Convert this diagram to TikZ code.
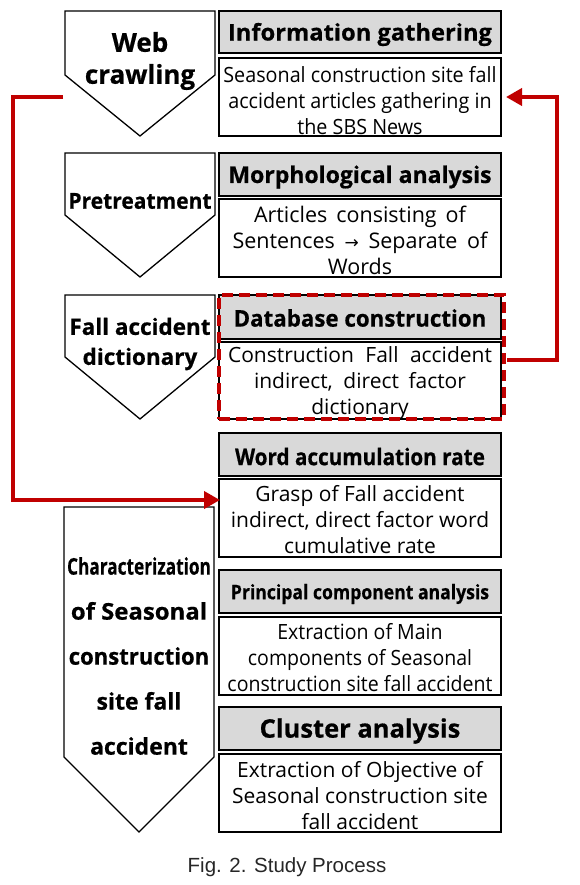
\documentclass[tikz,border=0pt]{standalone}
\usepackage{fontspec}
\setmainfont{Open Sans}
\newfontfamily\capfont{Liberation Sans}
\newfontfamily\arrfont{DejaVu Sans}
\usetikzlibrary{arrows.meta}
\definecolor{myred}{RGB}{192,0,0}
\definecolor{hdrgray}{RGB}{217,217,217}
\newcommand{\hb}{\bfseries\addfontfeature{FakeBold=0.6}}
\begin{document}
\begin{tikzpicture}[x=1pt,y=-1pt,
  hdr/.style={draw=black, line width=1.5pt, fill=hdrgray, minimum width=282pt, inner sep=0pt},
  hdrtext/.style={inner sep=0pt, font=\hb\fontsize{23}{26}\selectfont},
  bodybox/.style={draw=black, line width=1.5pt, minimum width=282pt, inner sep=0pt},
  bodytext/.style={inner sep=0pt, align=center, font=\fontsize{21}{26}\selectfont},
  pent/.style={draw=black, line width=1.3pt, fill=white},
  ptext/.style={align=center, inner sep=0pt, font=\hb\fontsize{23}{31}\selectfont},
  redline/.style={draw=myred, line width=3.8pt},
  redarrow/.style={redline, -{Triangle[length=16pt,width=17pt]}}
]
\useasboundingbox (0,0) rectangle (580,885);
% left pentagons
\draw[pent] (65,11) -- (215,11) -- (215,75) -- (140,136) -- (65,75) -- cycle;
\node[ptext, font=\hb\fontsize{26}{32}\selectfont] (p1) at (140,61) {Web\\crawling};
\draw[pent] (65,153) -- (215,153) -- (215,215) -- (140,277) -- (65,215) -- cycle;
\node[ptext, font=\hb\fontsize{22}{26}\selectfont] (p2) at (140,201) {\scalebox{0.955}[1]{Pretreatment}};
\draw[pent] (65,295) -- (215,295) -- (215,357) -- (140,419) -- (65,357) -- cycle;
\node[ptext, font=\hb\fontsize{22.5}{30}\selectfont] (p3) at (140,344) {Fall accident\\dictionary};
\draw[pent] (64,507) -- (214,507) -- (214,757) -- (139,832) -- (64,757) -- cycle;
\node[ptext, font=\hb\fontsize{23}{45}\selectfont] (p4) at (139,656) {\scalebox{0.75}[1]{Characterization}\\\scalebox{1.04}[1]{of Seasonal}\\\scalebox{0.96}[1]{construction}\\site fall\\accident};
% right column: boxes
\node[hdr, minimum height=42pt] (h1) at (360,32) {};
\node[bodybox, minimum height=78pt] (b1) at (360,97) {};
\node[hdr, minimum height=43pt] (h2) at (360,174.5) {};
\node[bodybox, minimum height=78pt] (b2) at (360,238) {};
\node[hdr, minimum height=44pt] (h3) at (360,317) {};
\node[bodybox, minimum height=77pt] (b3) at (360,380.5) {};
\node[hdr, minimum height=43pt] (h4) at (360,454.5) {};
\node[bodybox, minimum height=78pt] (b4) at (360,518) {};
\node[hdr, minimum height=43pt] (h5) at (360,591.5) {};
\node[bodybox, minimum height=78pt] (b5) at (360,656) {};
\node[hdr, minimum height=43pt] (h6) at (360,728.5) {};
\node[bodybox, minimum height=78pt] (b6) at (360,793) {};
% right column: texts
\node[hdrtext] (h1t) at ([yshift=-2.5pt]h1.center) {\scalebox{1.03}[1]{Information gathering}};
\node[hdrtext] (h2t) at ([yshift=-2.5pt]h2.center) {Morphological analysis};
\node[hdrtext] (h3t) at ([yshift=-1pt]h3.center) {\scalebox{0.97}[1]{Database construction}};
\node[hdrtext] (h4t) at ([yshift=-2pt]h4.center) {\scalebox{0.9}[1]{Word accumulation rate}};
\node[hdrtext, font=\hb\fontsize{20}{24}\selectfont] (h5t) at ([yshift=-2.5pt]h5.center) {\scalebox{0.88}[1]{Principal component analysis}};
\node[hdrtext, font=\hb\fontsize{25.5}{30}\selectfont] (h6t) at ([yshift=-2.5pt]h6.center) {Cluster analysis};
\node[bodytext] (b1t) at ([yshift=-3.5pt]b1.center) {\scalebox{0.94}[1]{Seasonal construction site fall}\\\scalebox{0.94}[1]{accident articles gathering in}\\\scalebox{0.94}[1]{the SBS News}};
\node[bodytext, font=\fontsize{21.5}{26}\selectfont] (b2t) at ([yshift=-2pt]b2.center) {\makebox[212pt][s]{Articles consisting of}\\\makebox[255pt][s]{Sentences {\arrfont\fontsize{17}{20}\selectfont →} Separate of}\\Words};
\node[bodytext] (b3t) at ([yshift=-2.5pt]b3.center) {\makebox[264pt][s]{Construction Fall accident}\\\makebox[212pt][s]{indirect, direct factor}\\dictionary};
\node[bodytext] (b4t) at ([yshift=-2pt]b4.center) {Grasp of Fall accident\\indirect, direct factor word\\cumulative rate};
\node[bodytext] (b5t) at ([yshift=-1.5pt]b5.center) {\scalebox{0.93}[1]{Extraction of Main}\\\scalebox{0.93}[1]{components of Seasonal}\\\scalebox{0.93}[1]{construction site fall accident}};
\node[bodytext] (b6t) at ([yshift=-2.5pt]b6.center) {Extraction of Objective of\\Seasonal construction site\\fall accident};
% red dashed frame
\node[draw=myred, line width=4pt, dash pattern=on 11pt off 6pt, minimum width=285pt, minimum height=124pt, inner sep=0pt] (dbframe) at (361.5,357) {};
% connectors
\coordinate (s1) at (63,97);
\coordinate (c1) at (13,97);
\coordinate (c2) at (13,500);
\coordinate (t1) at (220,500);
\draw[redarrow] (s1) -- (c1) -- (c2) -- (t1);
\coordinate (s2) at (507,360);
\coordinate (c3) at (557,360);
\coordinate (c4) at (557,97);
\coordinate (t2) at (506,97);
\draw[redarrow] (s2) -- (c3) -- (c4) -- (t2);
% caption
\node[font=\capfont\fontsize{20.5}{24}\selectfont, text=black!85] (cap) at (287,867) {Fig. 2. Study Process};
\end{tikzpicture}
\end{document}
